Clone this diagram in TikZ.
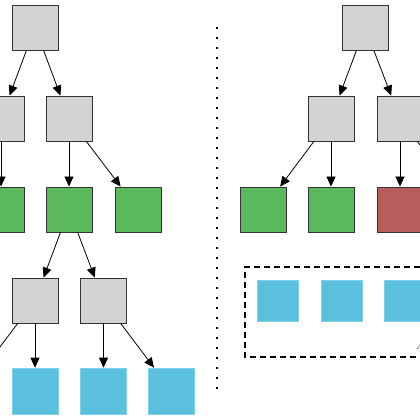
\documentclass[tikz,border=0pt]{standalone}
\usetikzlibrary{arrows.meta}
\definecolor{boxgray}{HTML}{D3D3D3}
\definecolor{boxedge}{HTML}{333333}
\definecolor{boxgreen}{HTML}{5CB85C}
\definecolor{boxred}{HTML}{B85C5C}
\definecolor{boxblue}{HTML}{5BC0DE}
\definecolor{blueedge}{HTML}{7FD0EA}
\begin{document}
\begin{tikzpicture}[x=1pt, y=-1pt,
		inner/.style={draw=boxedge, line width=0.9pt, fill=boxgray, minimum width=46pt, minimum height=45pt, inner sep=0pt},
		good/.style={inner, fill=boxgreen},
		bad/.style={inner, fill=boxred},
		leaf/.style={draw=blueedge, line width=0.6pt, fill=boxblue, minimum width=46pt, minimum height=46pt, inner sep=0pt},
		small/.style={leaf, minimum width=41pt, minimum height=41pt},
		edge/.style={line width=0.8pt, -{Triangle[length=10pt, width=9pt]}}]
			%%%%% START %%%%%
			
			\useasboundingbox (0, 0) rectangle (420, 420);
			
			% left tree
			\node[inner] (lroot) at (35, 27.5) {};
			\node[inner] (la) at (1, 118.5) {};
			\node[inner] (lb) at (69, 118.5) {};
			\node[good] (lc) at (1, 209.5) {};
			\node[good] (ld) at (69, 209.5) {};
			\node[good] (le) at (138, 209.5) {};
			\node[inner] (lf) at (35, 300.5) {};
			\node[inner] (lg) at (103.5, 300.5) {};
			\node[leaf] (lh) at (35, 391) {};
			\node[leaf] (li) at (103.5, 391) {};
			\node[leaf] (lj) at (171.5, 391) {};
			\coordinate (lk) at (-16, 368);
			
			\draw[edge] (lroot) -- (la);
			\draw[edge] (lroot) -- (lb);
			\draw[edge] (la) -- (lc);
			\draw[edge] (lb) -- (ld);
			\draw[edge] (lb) -- (le);
			\draw[edge] (ld) -- (lf);
			\draw[edge] (ld) -- (lg);
			\draw[edge] (lf) -- (lk);
			\draw[edge] (lf) -- (lh);
			\draw[edge] (lg) -- (li);
			\draw[edge] (lg) -- (lj);
			
			% separator
			\draw[line width=2pt, dash pattern=on 2pt off 8pt] (217, 27) -- (217, 393);
			
			% right tree
			\node[inner] (rroot) at (365, 27.5) {};
			\node[inner] (ra) at (331, 118.5) {};
			\node[inner] (rb) at (400, 118.5) {};
			\node[good] (rc) at (263, 209.5) {};
			\node[good] (rd) at (331, 209.5) {};
			\node[bad] (re) at (400, 209.5) {};
			\coordinate (rf) at (452, 187);
			
			\draw[edge] (rroot) -- (ra);
			\draw[edge] (rroot) -- (rb);
			\draw[edge] (ra) -- (rc);
			\draw[edge] (ra) -- (rd);
			\draw[edge] (rb) -- (re);
			\draw[edge] (rb) -- (rf);
			
			% dashed group
			\draw[line width=1.4pt, dash pattern=on 6pt off 4pt] (500, 267) -- (245, 267) -- (245, 357) -- (500, 357);
			\node[small] (ga) at (278, 300.5) {};
			\node[small] (gb) at (341.5, 300.5) {};
			\node[small] (gc) at (404.5, 300.5) {};
			\node[anchor=base west, inner sep=0pt, font=\footnotesize\itshape] (glabel) at (416, 349) {A};
			
			%%%%% END %%%%%
\end{tikzpicture}
\end{document}
